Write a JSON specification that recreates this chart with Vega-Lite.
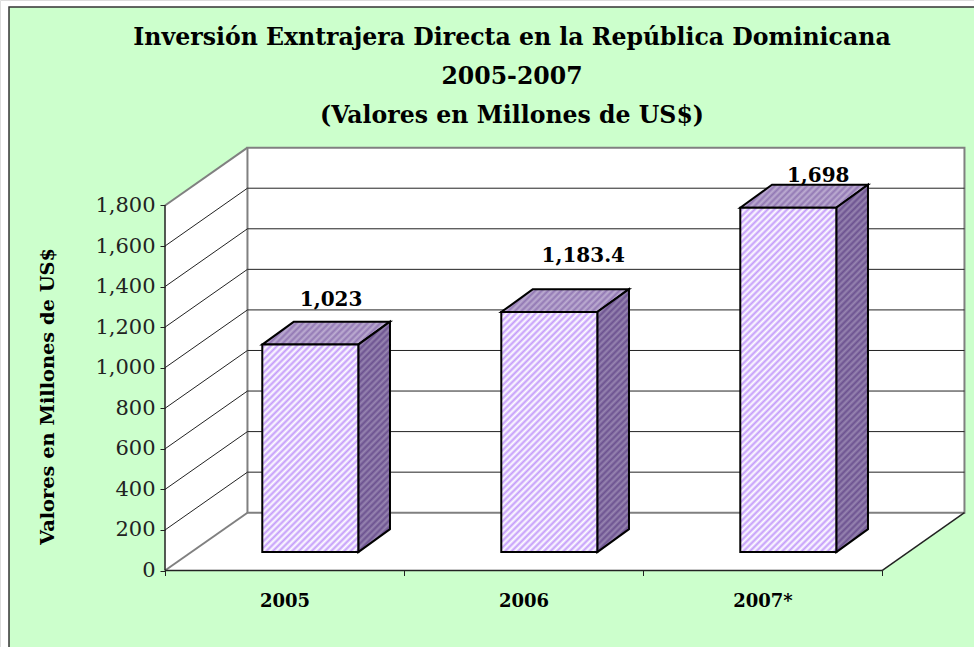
{
"$schema":"https://vega.github.io/schema/vega-lite/v6.json",
"width":974,"height":647,"padding":0,"autosize":"none","background":"#ffffff",
"title":{"text":["Inversión Exntrajera Directa en la República Dominicana","2005-2007","(Valores en Millones de US$)"],"font":"DejaVu Serif","fontSize":23.6,"fontWeight":"bold","color":"#000000","lineHeight":39,"anchor":"middle","frame":"group","offset":0,"dy":128,"dx":25},
"params":[{"name":"D","value":540},{"name":"stripes","value":[{"offset":0,"color":"#fff"},{"offset":0.006,"color":"#fff0"},{"offset":0.012,"color":"#fff"},{"offset":0.018,"color":"#fff0"},{"offset":0.024,"color":"#fff"},{"offset":0.03,"color":"#fff0"},{"offset":0.036,"color":"#fff"},{"offset":0.042,"color":"#fff0"},{"offset":0.048,"color":"#fff"},{"offset":0.054,"color":"#fff0"},{"offset":0.06,"color":"#fff"},{"offset":0.066,"color":"#fff0"},{"offset":0.072,"color":"#fff"},{"offset":0.078,"color":"#fff0"},{"offset":0.084,"color":"#fff"},{"offset":0.09,"color":"#fff0"},{"offset":0.096,"color":"#fff"},{"offset":0.102,"color":"#fff0"},{"offset":0.108,"color":"#fff"},{"offset":0.114,"color":"#fff0"},{"offset":0.12,"color":"#fff"},{"offset":0.126,"color":"#fff0"},{"offset":0.132,"color":"#fff"},{"offset":0.138,"color":"#fff0"},{"offset":0.144,"color":"#fff"},{"offset":0.15,"color":"#fff0"},{"offset":0.156,"color":"#fff"},{"offset":0.162,"color":"#fff0"},{"offset":0.168,"color":"#fff"},{"offset":0.174,"color":"#fff0"},{"offset":0.18,"color":"#fff"},{"offset":0.186,"color":"#fff0"},{"offset":0.192,"color":"#fff"},{"offset":0.198,"color":"#fff0"},{"offset":0.204,"color":"#fff"},{"offset":0.21,"color":"#fff0"},{"offset":0.216,"color":"#fff"},{"offset":0.222,"color":"#fff0"},{"offset":0.228,"color":"#fff"},{"offset":0.234,"color":"#fff0"},{"offset":0.24,"color":"#fff"},{"offset":0.246,"color":"#fff0"},{"offset":0.252,"color":"#fff"},{"offset":0.258,"color":"#fff0"},{"offset":0.264,"color":"#fff"},{"offset":0.27,"color":"#fff0"},{"offset":0.276,"color":"#fff"},{"offset":0.282,"color":"#fff0"},{"offset":0.288,"color":"#fff"},{"offset":0.294,"color":"#fff0"},{"offset":0.3,"color":"#fff"},{"offset":0.306,"color":"#fff0"},{"offset":0.312,"color":"#fff"},{"offset":0.318,"color":"#fff0"},{"offset":0.324,"color":"#fff"},{"offset":0.33,"color":"#fff0"},{"offset":0.336,"color":"#fff"},{"offset":0.342,"color":"#fff0"},{"offset":0.348,"color":"#fff"},{"offset":0.354,"color":"#fff0"},{"offset":0.36,"color":"#fff"},{"offset":0.366,"color":"#fff0"},{"offset":0.372,"color":"#fff"},{"offset":0.378,"color":"#fff0"},{"offset":0.384,"color":"#fff"},{"offset":0.39,"color":"#fff0"},{"offset":0.396,"color":"#fff"},{"offset":0.402,"color":"#fff0"},{"offset":0.408,"color":"#fff"},{"offset":0.414,"color":"#fff0"},{"offset":0.42,"color":"#fff"},{"offset":0.426,"color":"#fff0"},{"offset":0.432,"color":"#fff"},{"offset":0.438,"color":"#fff0"},{"offset":0.444,"color":"#fff"},{"offset":0.45,"color":"#fff0"},{"offset":0.456,"color":"#fff"},{"offset":0.462,"color":"#fff0"},{"offset":0.468,"color":"#fff"},{"offset":0.474,"color":"#fff0"},{"offset":0.48,"color":"#fff"},{"offset":0.486,"color":"#fff0"},{"offset":0.492,"color":"#fff"},{"offset":0.498,"color":"#fff0"},{"offset":0.504,"color":"#fff"},{"offset":0.51,"color":"#fff0"},{"offset":0.516,"color":"#fff"},{"offset":0.522,"color":"#fff0"},{"offset":0.528,"color":"#fff"},{"offset":0.534,"color":"#fff0"},{"offset":0.54,"color":"#fff"},{"offset":0.546,"color":"#fff0"},{"offset":0.552,"color":"#fff"},{"offset":0.558,"color":"#fff0"},{"offset":0.564,"color":"#fff"},{"offset":0.57,"color":"#fff0"},{"offset":0.576,"color":"#fff"},{"offset":0.582,"color":"#fff0"},{"offset":0.588,"color":"#fff"},{"offset":0.594,"color":"#fff0"},{"offset":0.6,"color":"#fff"},{"offset":0.606,"color":"#fff0"},{"offset":0.612,"color":"#fff"},{"offset":0.618,"color":"#fff0"},{"offset":0.624,"color":"#fff"},{"offset":0.63,"color":"#fff0"},{"offset":0.636,"color":"#fff"},{"offset":0.642,"color":"#fff0"},{"offset":0.648,"color":"#fff"},{"offset":0.654,"color":"#fff0"},{"offset":0.66,"color":"#fff"},{"offset":0.666,"color":"#fff0"},{"offset":0.672,"color":"#fff"},{"offset":0.678,"color":"#fff0"},{"offset":0.684,"color":"#fff"},{"offset":0.69,"color":"#fff0"},{"offset":0.696,"color":"#fff"},{"offset":0.702,"color":"#fff0"},{"offset":0.708,"color":"#fff"},{"offset":0.714,"color":"#fff0"},{"offset":0.72,"color":"#fff"},{"offset":0.726,"color":"#fff0"},{"offset":0.732,"color":"#fff"},{"offset":0.738,"color":"#fff0"},{"offset":0.744,"color":"#fff"},{"offset":0.75,"color":"#fff0"},{"offset":0.756,"color":"#fff"},{"offset":0.762,"color":"#fff0"},{"offset":0.768,"color":"#fff"},{"offset":0.774,"color":"#fff0"},{"offset":0.78,"color":"#fff"},{"offset":0.786,"color":"#fff0"},{"offset":0.792,"color":"#fff"},{"offset":0.798,"color":"#fff0"},{"offset":0.804,"color":"#fff"},{"offset":0.81,"color":"#fff0"},{"offset":0.816,"color":"#fff"},{"offset":0.822,"color":"#fff0"},{"offset":0.828,"color":"#fff"},{"offset":0.834,"color":"#fff0"},{"offset":0.84,"color":"#fff"},{"offset":0.846,"color":"#fff0"}]}],
"datasets":{"bars":[{"year":"2005","i":0,"value":1023},{"year":"2006","i":1,"value":1183.4},{"year":"2007*","i":2,"value":1698}],
"grid":[{"v":200},{"v":400},{"v":600},{"v":800},{"v":1000},{"v":1200},{"v":1400},{"v":1600}]},
"data":{"name":"bars"},
"encoding":{},
"layer":[
{"data":{"values":[{"a":1}]},"transform":[{"calculate":"-0.6527","as":"x0"},{"calculate":"4","as":"x1"},{"calculate":"2779","as":"y0"},{"calculate":"-500","as":"y1"}],
 "mark":{"type":"rect","fill":"#CCFFCC","stroke":"#333333","strokeWidth":1.5},
 "encoding":{"x":{"field":"x0","type":"quantitative","scale":{"domain":[-0.6904,3.3849],"nice":false,"zero":false},"axis":{"orient":"bottom","zindex":1,"offset":-76.5,"domain":false,"grid":false,"values":[0,0.5,1,1.5,2,2.5,3],"tickSize":5,"tickColor":"#222222","tickOpacity":{"condition":{"test":"datum.value%1!=0","value":0},"value":1},"labelExpr":"datum.value==0.5?'2005':datum.value==1.5?'2006':datum.value==2.5?'2007*':''","labelFont":"DejaVu Serif","labelFontWeight":"bold","labelFontSize":18,"labelColor":"#000000","labelPadding":17,"labelOverlap":false,"labelFlush":false,"title":null}},"x2":{"field":"x1"},
 "y":{"field":"y0","type":"quantitative","scale":{"domain":[-377,2813],"nice":false,"zero":false},"axis":{"orient":"left","zindex":1,"offset":-165,"domain":false,"grid":false,"values":[0,200,400,600,800,1000,1200,1400,1600,1800],"tickSize":5,"tickColor":"#222222","format":",.0f","labelFont":"DejaVu Serif","labelFontSize":21,"labelColor":"#222222","labelPadding":5,"title":"Valores en Millones de US$","titleFont":"DejaVu Serif","titleFontWeight":"bold","titleFontSize":19.4,"titleColor":"#000000","titleAngle":-90,"titleX":-118,"titleY":396,"titleBaseline":"middle","titleAnchor":"middle"}},"y2":{"field":"y1"}}},
{"data":{"values":[{"k":0},{"k":1}]},"transform":[{"calculate":"datum.k*0.345","as":"x"},{"calculate":"datum.k*285","as":"y"},{"calculate":"1800+datum.k*285","as":"yt"}],
 "mark":{"type":"area","fill":"#ffffff","stroke":null},"encoding":{"x":{"field":"x","type":"quantitative"},"y":{"field":"y","type":"quantitative"},"y2":{"field":"yt"}}},
{"data":{"values":[{"k":0},{"k":1}]},"transform":[{"calculate":"datum.k*285","as":"y"},{"calculate":"datum.k*0.345","as":"x"},{"calculate":"3+datum.k*0.345","as":"xr"}],
 "mark":{"type":"area","orient":"horizontal","fill":"#ffffff","stroke":null},"encoding":{"y":{"field":"y","type":"quantitative"},"x":{"field":"x","type":"quantitative"},"x2":{"field":"xr"}}},
{"data":{"values":[{"a":1}]},"transform":[{"calculate":"0.345","as":"x0"},{"calculate":"3.345","as":"x1"},{"calculate":"285","as":"y0"},{"calculate":"2085","as":"y1"}],
 "mark":{"type":"rect","fill":"#ffffff","stroke":"#808080","strokeWidth":2},"encoding":{"x":{"field":"x0","type":"quantitative"},"x2":{"field":"x1"},"y":{"field":"y0","type":"quantitative"},"y2":{"field":"y1"}}},
{"data":{"name":"grid"},"transform":[{"calculate":"[0,1,2]","as":"k"},{"flatten":["k"]},{"calculate":"[0,0.345,3.345][datum.k]","as":"x"},{"calculate":"datum.v+(datum.k>0?285:0)","as":"y"}],
 "mark":{"type":"line","stroke":"#222222","strokeWidth":1,"interpolate":"linear"},"encoding":{"x":{"field":"x","type":"quantitative"},"y":{"field":"y","type":"quantitative"},"detail":{"field":"v"},"order":{"field":"k"}}},
{"data":{"values":[{"v":0},{"v":1800}]},"transform":[{"calculate":"[0,1]","as":"k"},{"flatten":["k"]},{"calculate":"datum.k*0.345","as":"x"},{"calculate":"datum.v+datum.k*285","as":"y"}],
 "mark":{"type":"line","stroke":"#808080","strokeWidth":2},"encoding":{"x":{"field":"x","type":"quantitative"},"y":{"field":"y","type":"quantitative"},"detail":{"field":"v"},"order":{"field":"k"}}},
{"data":{"values":[{"a":0,"b":0,"c":0,"d":1800},{"a":0,"b":3,"c":0,"d":0},{"a":3,"b":3.345,"c":0,"d":285}]},
 "mark":{"type":"rule","stroke":"#222222","strokeWidth":1.5},"encoding":{"x":{"field":"a","type":"quantitative"},"x2":{"field":"b"},"y":{"field":"c","type":"quantitative"},"y2":{"field":"d"}}},
{"transform":[{"calculate":"[0,1]","as":"k"},{"flatten":["k"]},{"calculate":"datum.value+91+datum.k*113","as":"y"},{"calculate":"datum.i+0.407+datum.k*0.1326","as":"x"},{"calculate":"datum.i+0.8087+datum.k*0.1326","as":"xr"}],
 "mark":{"type":"area","orient":"horizontal","fill":"#9278B4"},"encoding":{"y":{"field":"y","type":"quantitative"},"x":{"field":"x","type":"quantitative"},"x2":{"field":"xr"},"detail":{"field":"year"}}},
{"transform":[{"calculate":"[0,1]","as":"k"},{"flatten":["k"]},{"calculate":"datum.value+91+datum.k*113","as":"y"},{"calculate":"datum.i+0.407+datum.k*0.1326","as":"x"},{"calculate":"datum.i+0.8087+datum.k*0.1326","as":"xr"}],
 "mark":{"type":"area","orient":"horizontal","opacity":0.4,"fill":{"expr":"{gradient:'linear',x1:0,y1:0,x2:D*128/(128*128+23*23),y2:D*23/(128*128+23*23),stops:stripes}"}},"encoding":{"y":{"field":"y","type":"quantitative"},"x":{"field":"x","type":"quantitative"},"x2":{"field":"xr"},"detail":{"field":"year"}}},
{"transform":[{"calculate":"[0,1]","as":"k"},{"flatten":["k"]},{"calculate":"datum.value+91+datum.k*113","as":"y"},{"calculate":"datum.i+0.407+datum.k*0.1326","as":"x"},{"calculate":"datum.i+0.8087+datum.k*0.1326","as":"xr"}],
 "mark":{"type":"area","orient":"horizontal","fill":null,"stroke":"#000000","strokeWidth":2},"encoding":{"y":{"field":"y","type":"quantitative"},"x":{"field":"x","type":"quantitative"},"x2":{"field":"xr"},"detail":{"field":"year"}}},
{"transform":[{"calculate":"[0,1]","as":"k"},{"flatten":["k"]},{"calculate":"datum.i+0.8087+datum.k*0.1326","as":"x"},{"calculate":"91+datum.k*113","as":"y"},{"calculate":"datum.value+91+datum.k*113","as":"yt"}],
 "mark":{"type":"area","fill":"#6C5290"},"encoding":{"x":{"field":"x","type":"quantitative"},"y":{"field":"y","type":"quantitative"},"y2":{"field":"yt"},"detail":{"field":"year"}}},
{"transform":[{"calculate":"[0,1]","as":"k"},{"flatten":["k"]},{"calculate":"datum.i+0.8087+datum.k*0.1326","as":"x"},{"calculate":"91+datum.k*113","as":"y"},{"calculate":"datum.value+91+datum.k*113","as":"yt"},{"calculate":"datum.value*0.2028+23","as":"h"}],
 "mark":{"type":"area","opacity":0.3,"fill":{"expr":"{gradient:'linear',x1:0,y1:0,x2:D*32/(32*32+datum.h*datum.h),y2:D*datum.h/(32*32+datum.h*datum.h),stops:stripes}"}},"encoding":{"x":{"field":"x","type":"quantitative"},"y":{"field":"y","type":"quantitative"},"y2":{"field":"yt"},"detail":{"field":"year"}}},
{"transform":[{"calculate":"[0,1]","as":"k"},{"flatten":["k"]},{"calculate":"datum.i+0.8087+datum.k*0.1326","as":"x"},{"calculate":"91+datum.k*113","as":"y"},{"calculate":"datum.value+91+datum.k*113","as":"yt"}],
 "mark":{"type":"area","fill":null,"stroke":"#000000","strokeWidth":2},"encoding":{"x":{"field":"x","type":"quantitative"},"y":{"field":"y","type":"quantitative"},"y2":{"field":"yt"},"detail":{"field":"year"}}},
{"transform":[{"calculate":"datum.i+0.407","as":"x0"},{"calculate":"datum.i+0.8087","as":"x1"},{"calculate":"91","as":"y0"},{"calculate":"datum.value+91","as":"y1"}],
 "mark":{"type":"rect","fill":"#C49CFA"},"encoding":{"x":{"field":"x0","type":"quantitative"},"x2":{"field":"x1"},"y":{"field":"y0","type":"quantitative"},"y2":{"field":"y1"}}},
{"transform":[{"calculate":"datum.i+0.407","as":"x0"},{"calculate":"datum.i+0.8087","as":"x1"},{"calculate":"91","as":"y0"},{"calculate":"datum.value+91","as":"y1"},{"calculate":"datum.value*0.2028","as":"h"}],
 "mark":{"type":"rect","fill":{"expr":"{gradient:'linear',x1:0,y1:0,x2:D*96/(96*96+datum.h*datum.h),y2:D*datum.h/(96*96+datum.h*datum.h),stops:stripes}"}},"encoding":{"x":{"field":"x0","type":"quantitative"},"x2":{"field":"x1"},"y":{"field":"y0","type":"quantitative"},"y2":{"field":"y1"}}},
{"transform":[{"calculate":"datum.i+0.407","as":"x0"},{"calculate":"datum.i+0.8087","as":"x1"},{"calculate":"91","as":"y0"},{"calculate":"datum.value+91","as":"y1"}],
 "mark":{"type":"rect","fill":null,"stroke":"#000000","strokeWidth":2},"encoding":{"x":{"field":"x0","type":"quantitative"},"x2":{"field":"x1"},"y":{"field":"y0","type":"quantitative"},"y2":{"field":"y1"}}},
{"transform":[{"calculate":"datum.i+[0.695,0.75,0.733][datum.i]","as":"lx"},{"calculate":"datum.value+91+[192,247,127][datum.i]","as":"ly"}],
 "mark":{"type":"text","font":"DejaVu Serif","fontWeight":"bold","fontSize":20,"fill":"#000000","align":"center","baseline":"alphabetic"},"encoding":{"x":{"field":"lx","type":"quantitative"},"y":{"field":"ly","type":"quantitative"},"text":{"field":"value","type":"quantitative","format":",.1~f"}}}
]}
